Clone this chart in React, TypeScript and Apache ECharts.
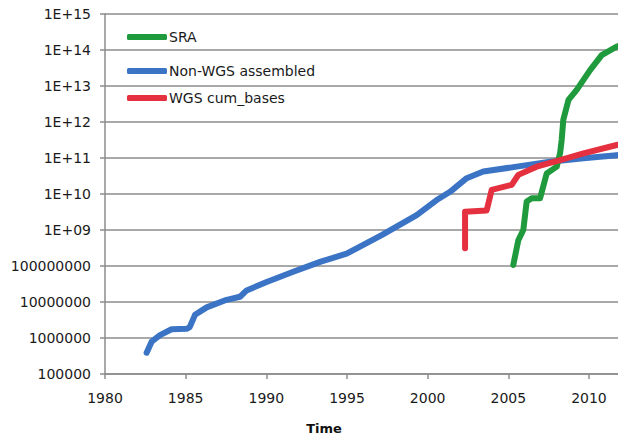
import React, { useEffect, useRef } from "react";
import * as echarts from "echarts";

// Non-WGS assembled (blue)
const blueYears = [1982.58, 1982.89, 1983.41, 1984.13, 1985.06, 1985.25, 1985.58, 1986.3, 1987.54, 1988.37, 1988.78, 1990.02, 1991.67, 1993.33, 1994.98, 1997.15, 1999.32, 2000.56, 2001.39, 2002.42, 2003.45, 2005.52, 2007.59, 2009.66, 2011.72, 2012.5];
const blueValues = [3.9e5, 7.9e5, 1.2e6, 1.75e6, 1.8e6, 2.0e6, 4.4e6, 7.1e6, 1.15e7, 1.4e7, 2.1e7, 3.6e7, 6.9e7, 1.3e8, 2.2e8, 7.2e8, 2.6e9, 6.8e9, 1.15e10, 2.75e10, 4.2e10, 5.75e10, 7.9e10, 9.8e10, 1.2e11, 1.3e11];

// WGS cum_bases (red)
const redYears = [2002.32, 2002.32, 2003.66, 2003.97, 2005.21, 2005.62, 2006.76, 2008.21, 2009.66, 2011.72, 2012.5];
const redValues = [3.1e8, 3.2e9, 3.5e9, 1.3e10, 1.8e10, 3.4e10, 5.75e10, 8.7e10, 1.35e11, 2.3e11, 2.7e11];

// SRA (green)
const greenYears = [2005.31, 2005.62, 2005.93, 2006.14, 2006.45, 2006.97, 2007.38, 2008.0, 2008.21, 2008.31, 2008.41, 2008.73, 2009.24, 2010.07, 2010.79, 2011.72, 2012.5];
const greenValues = [1.07e8, 5.2e8, 1.0e9, 6.2e9, 7.6e9, 7.6e9, 3.7e10, 5.75e10, 1.35e11, 3.2e11, 1.15e12, 4.1e12, 7.8e12, 2.75e13, 7.2e13, 1.25e14, 1.6e14];

const seriesNames = ["SRA", "Non-WGS assembled", "WGS cum_bases"];
const seriesColors = ["#1f9a3d", "#3c74c5", "#e4303f"];
const xTitle = "Time";
const xMin = 1980;
const xMaxVisible = 2011.8;

const zip = (xs: number[], ys: number[]) => xs.map((x, i) => [x, ys[i]]);

export default function App() {
  const ref = useRef<HTMLDivElement>(null);
  useEffect(() => {
    if (!ref.current) return;
    const chart = echarts.init(ref.current, null, { renderer: "svg" });
    const font = "DejaVu Sans";
    const gridColor = "#8c8c8c";
    const legendTops = [25, 59, 86];
    chart.setOption({
      animation: false,
      backgroundColor: "#ffffff",
      grid: { left: 105, top: 14, right: 0, bottom: 62 },
      legend: seriesNames.map((n, i) => ({
        data: [n],
        left: 122,
        top: legendTops[i],
        icon: "roundRect",
        itemWidth: 40,
        itemHeight: 6,
        selectedMode: false,
        textStyle: { fontFamily: font, fontSize: 14, color: "#1a1a1a", padding: [0, 0, 0, -3] },
      })),
      xAxis: {
        type: "value",
        min: xMin,
        max: xMaxVisible,
        interval: 5,
        axisLine: { show: true, lineStyle: { color: gridColor, width: 1.5 } },
        axisTick: { show: true, length: 5, lineStyle: { color: gridColor, width: 1.5 } },
        splitLine: { show: false },
        axisLabel: {
          fontFamily: font,
          fontSize: 14,
          color: "#1a1a1a",
          margin: 17,
          showMaxLabel: false,
          formatter: (v: number) => (Math.abs(v % 5) < 1e-6 ? String(Math.round(v)) : ""),
        },
      },
      yAxis: {
        type: "log",
        logBase: 10,
        min: 1e5,
        max: 1e15,
        splitNumber: 10,
        axisLine: { show: true, lineStyle: { color: gridColor, width: 1.5 } },
        axisTick: { show: true, length: 5, lineStyle: { color: gridColor, width: 1.5 } },
        splitLine: { show: true, lineStyle: { color: gridColor, width: 1.5 } },
        minorTick: { show: false },
        axisLabel: {
          fontFamily: font,
          fontSize: 14,
          color: "#1a1a1a",
          margin: 14,
          formatter: (v: number) => {
            const e = Math.round(Math.log10(v));
            if (e >= 9) return "1E+" + (e < 10 ? "0" + e : String(e));
            return "1" + "0".repeat(e);
          },
        },
      },
      graphic: [
        {
          type: "text",
          x: 324,
          y: 428,
          style: {
            text: xTitle,
            fontFamily: font,
            fontSize: 13,
            fontWeight: "bold",
            fill: "#111",
            textAlign: "center",
            textVerticalAlign: "middle",
          },
        },
      ],
      series: [
        { name: seriesNames[0], data: zip(greenYears, greenValues), color: seriesColors[0] },
        { name: seriesNames[1], data: zip(blueYears, blueValues), color: seriesColors[1] },
        { name: seriesNames[2], data: zip(redYears, redValues), color: seriesColors[2] },
      ].map((s) => ({
        ...s,
        type: "line",
        showSymbol: false,
        symbol: "none",
        lineStyle: { width: 6, color: s.color, cap: "round", join: "round" },
        itemStyle: { color: s.color },
        z: s.name === "Non-WGS assembled" ? 2 : 3,
      })),
    });
    return () => chart.dispose();
  }, []);
  return (
    <div
      ref={ref}
      style={{ position: "fixed", left: 0, top: 0, width: 618, height: 436 }}
    />
  );
}
